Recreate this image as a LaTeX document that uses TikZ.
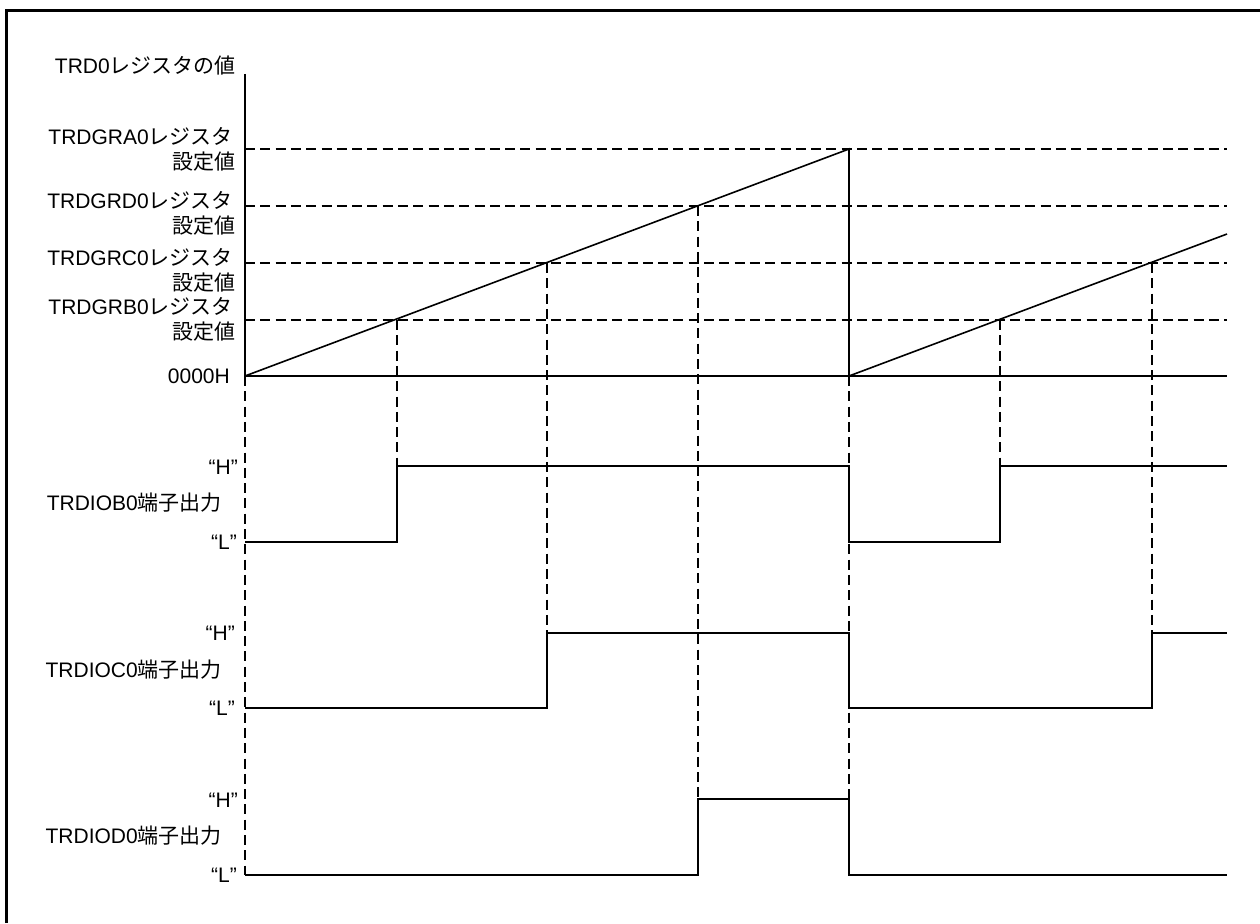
\documentclass[tikz,border=0pt]{standalone}
\usepackage{fontspec}
\setmainfont{Liberation Sans}
\newfontfamily\jpfont{Noto Sans CJK JP}
\newcommand{\jtext}[1]{{\jpfont #1}}
\tikzset{
    lbl/.style={anchor=east, inner sep=0pt, font=\fontsize{21}{24}\selectfont},
    guide/.style={line width=1.6pt, dash pattern=on 10pt off 5.3pt},
    wave/.style={line width=1.6pt},
}
\begin{document}
\begin{tikzpicture}[x=1pt, y=-1pt]
        \useasboundingbox (0, 0) rectangle (1260, 923);
        \draw[line width=3pt] (6.5, 923) -- (6.5, 10.5) -- (1260, 10.5);
        % counter axis and labels
        \node[lbl] (cnt) at (236, 66) {TRD0\jtext{レジスタの値}};
        \node[lbl] (gra) at (233, 136) {TRDGRA0\jtext{レジスタ}};
        \node[lbl] (gras) at (236, 162) {\jtext{設定値}};
        \node[lbl] (grd) at (233, 200) {TRDGRD0\jtext{レジスタ}};
        \node[lbl] (grds) at (236, 226) {\jtext{設定値}};
        \node[lbl] (grc) at (233, 257) {TRDGRC0\jtext{レジスタ}};
        \node[lbl] (grcs) at (236, 283) {\jtext{設定値}};
        \node[lbl] (grb) at (233, 306) {TRDGRB0\jtext{レジスタ}};
        \node[lbl] (grbs) at (236, 332) {\jtext{設定値}};
        \node[lbl] (zero) at (230, 376) {0000H};
        \draw[wave] (245, 74) -- (245, 376) -- (1227, 376);
        \draw[guide] (245, 149) -- (1227, 149);
        \draw[guide] (245, 206) -- (1227, 206);
        \draw[guide] (245, 263) -- (1227, 263);
        \draw[guide] (245, 320) -- (1227, 320);
        \draw[wave] (245, 376) -- (849, 149) -- (849, 376) -- (1227, 234);
        % compare match guides
        \draw[guide] (245, 376) -- (245, 875);
        \draw[guide] (397, 320) -- (397, 466);
        \draw[guide] (547, 263) -- (547, 633);
        \draw[guide] (698, 206) -- (698, 799);
        \draw[guide] (849, 376) -- (849, 875);
        \draw[guide] (1000, 320) -- (1000, 466);
        \draw[guide] (1152, 263) -- (1152, 633);
        % TRDIOB0
        \node[lbl] (hb) at (238, 467) {“H”};
        \node[lbl] (pinb) at (222, 503) {TRDIOB0\jtext{端子出力}};
        \node[lbl] (lb) at (237, 542) {“L”};
        \draw[wave] (245, 542) -- (397, 542) -- (397, 466) -- (849, 466) -- (849, 542) -- (1000, 542) -- (1000, 466) -- (1227, 466);
        % TRDIOC0
        \node[lbl] (hc) at (235, 633) {“H”};
        \node[lbl] (pinc) at (222, 670) {TRDIOC0\jtext{端子出力}};
        \node[lbl] (lc) at (235, 708) {“L”};
        \draw[wave] (245, 708) -- (547, 708) -- (547, 633) -- (849, 633) -- (849, 708) -- (1152, 708) -- (1152, 633) -- (1227, 633);
        % TRDIOD0
        \node[lbl] (hd) at (238, 800) {“H”};
        \node[lbl] (pind) at (222, 836) {TRDIOD0\jtext{端子出力}};
        \node[lbl] (ld) at (237, 875) {“L”};
        \draw[wave] (245, 875) -- (698, 875) -- (698, 799) -- (849, 799) -- (849, 875) -- (1227, 875);
    \end{tikzpicture}
\end{document}
